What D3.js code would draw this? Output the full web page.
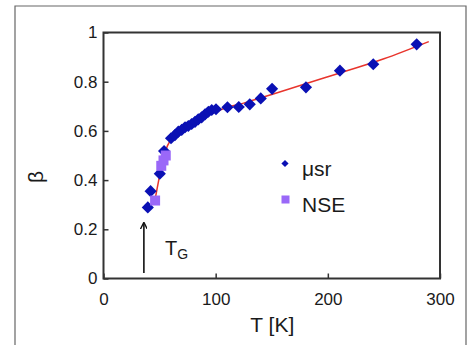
<!DOCTYPE html>
<html>
<head>
<meta charset="utf-8">
<script src="https://cdn.jsdelivr.net/npm/d3@7"></script>
<style>
  html, body { margin: 0; padding: 0; background: #fff; }
  svg { display: block; font-family: "Liberation Sans", Arial, sans-serif; }
</style>
</head>
<body>
<svg id="chart" width="467" height="355"></svg>
<script>
// Stretching exponent beta versus temperature
const musrT    = [39.5, 42, 50.2, 54, 60.2, 63.7, 66.7, 69.7, 72.7, 75.6, 78.6, 81.6, 84.5, 87.5, 90.5, 93.5, 96.5, 100.3, 110.5, 120.6, 130.4, 140.2, 150.3, 180.5, 210.8, 240.5, 279.2];
const musrBeta = [0.289, 0.355, 0.426, 0.518, 0.570, 0.583, 0.597, 0.604, 0.615, 0.620, 0.628, 0.637, 0.647, 0.655, 0.667, 0.678, 0.685, 0.688, 0.696, 0.697, 0.708, 0.732, 0.771, 0.777, 0.845, 0.871, 0.952];

const nseT    = [46, 51.5, 53.5, 55.5];
const nseBeta = [0.317, 0.458, 0.48, 0.5];

// Fitted curve
const fitT    = [45.5, 48, 51, 55, 60, 65, 70, 80, 90, 100, 110, 125, 150, 200, 250, 290];
const fitBeta = [0.31, 0.37, 0.44, 0.515, 0.565, 0.588, 0.603, 0.632, 0.657, 0.678, 0.695, 0.713, 0.748, 0.82, 0.893, 0.963];

const xTicks = [0, 100, 200, 300];
const yTicks = [0, 0.2, 0.4, 0.6, 0.8, 1];
const yTickLabels = ["0", "0.2", "0.4", "0.6", "0.8", "1"];
const tgT = 36;

const svg = d3.select("#chart");
const plot = { left: 103.5, right: 440, top: 32.5, bottom: 278.5 };

const x = d3.scaleLinear().domain([0, 300]).range([plot.left, plot.right]);
const y = d3.scaleLinear().domain([0, 1]).range([plot.bottom, plot.top]);

// outer panel border
svg.append("path")
  .attr("d", "M15,345 L15,6 L466,6 L466,345")
  .attr("fill", "none").attr("stroke", "#666").attr("stroke-width", 1.2);

// axes with inward ticks
const frameColor = "#333";
const gx = svg.append("g").attr("transform", `translate(0,${plot.bottom})`)
  .call(d3.axisBottom(x).tickValues(xTicks).tickSize(-5).tickSizeOuter(0).tickPadding(14).tickFormat(d3.format("d")));
const gy = svg.append("g").attr("transform", `translate(${plot.left},0)`)
  .call(d3.axisLeft(y).tickValues(yTicks).tickSize(-5).tickSizeOuter(0).tickPadding(6).tickFormat((d, i) => yTickLabels[i]));
[gx, gy].forEach(g => {
  g.select(".domain").remove();
  g.selectAll(".tick line").attr("stroke", frameColor).attr("stroke-width", 1.5);
  g.selectAll(".tick text").attr("fill", "#1a1a1a").style("font-size", "17px")
    .style("font-family", "'Liberation Sans', Arial, sans-serif");
});

// plot frame
svg.append("rect")
  .attr("x", plot.left).attr("y", plot.top)
  .attr("width", plot.right - plot.left).attr("height", plot.bottom - plot.top)
  .attr("fill", "none").attr("stroke", frameColor).attr("stroke-width", 2);

// axis titles
svg.append("text")
  .attr("x", (plot.left + plot.right) / 2 + 0.5).attr("y", 332)
  .attr("text-anchor", "middle").attr("fill", "#1a1a1a")
  .style("font-size", "21px").text("T [K]");
svg.append("text")
  .attr("transform", "translate(43,177) rotate(-90)")
  .attr("text-anchor", "middle").attr("fill", "#1a1a1a")
  .style("font-size", "21px").text("β");

// fit curve
const line = d3.line().x(d => x(d[0])).y(d => y(d[1])).curve(d3.curveMonotoneX);
svg.append("path")
  .datum(fitT.map((t, i) => [t, fitBeta[i]]))
  .attr("d", line)
  .attr("fill", "none").attr("stroke", "#e8342c").attr("stroke-width", 1.5);

// markers
const blue = "#0a10b4";
const purple = "#9a68f8";

svg.append("g").selectAll("path")
  .data(musrT.map((t, i) => [t, musrBeta[i]]))
  .join("path")
  .attr("transform", d => `translate(${x(d[0])},${y(d[1])}) rotate(45)`)
  .attr("d", d3.symbol().type(d3.symbolSquare).size(74))
  .attr("fill", blue);

svg.append("g").selectAll("rect")
  .data(nseT.map((t, i) => [t, nseBeta[i]]))
  .join("rect")
  .attr("x", d => x(d[0]) - 5).attr("y", d => y(d[1]) - 5)
  .attr("width", 10).attr("height", 10)
  .attr("fill", purple);

// legend
svg.append("path")
  .attr("transform", "translate(285,163.5) rotate(45)")
  .attr("d", d3.symbol().type(d3.symbolSquare).size(26))
  .attr("fill", blue);
svg.append("text").attr("x", 302).attr("y", 176)
  .attr("fill", "#1a1a1a").style("font-size", "21px").text("μsr");
svg.append("rect")
  .attr("x", 281.5).attr("y", 195.5).attr("width", 8).attr("height", 8)
  .attr("fill", purple);
svg.append("text").attr("x", 302).attr("y", 212)
  .attr("fill", "#1a1a1a").style("font-size", "21px").text("NSE");

// glass transition marker
svg.append("defs").append("marker")
  .attr("id", "arrowhead").attr("viewBox", "0 0 10 10")
  .attr("refX", 9).attr("refY", 5)
  .attr("markerWidth", 7).attr("markerHeight", 7)
  .attr("markerUnits", "userSpaceOnUse")
  .attr("orient", "auto")
  .append("path").attr("d", "M0,0 L10,5 L0,10").attr("fill", "none").attr("stroke", "#111").attr("stroke-width", 2);
svg.append("line")
  .attr("x1", x(tgT)).attr("x2", x(tgT))
  .attr("y1", 273).attr("y2", 223)
  .attr("stroke", "#111").attr("stroke-width", 1.6)
  .attr("marker-end", "url(#arrowhead)");
const tg = svg.append("text").attr("x", 165).attr("y", 255).attr("fill", "#1a1a1a").style("font-size", "20px");
tg.append("tspan").text("T");
tg.append("tspan").attr("dy", 4).style("font-size", "14px").text("G");
</script>
</body>
</html>
